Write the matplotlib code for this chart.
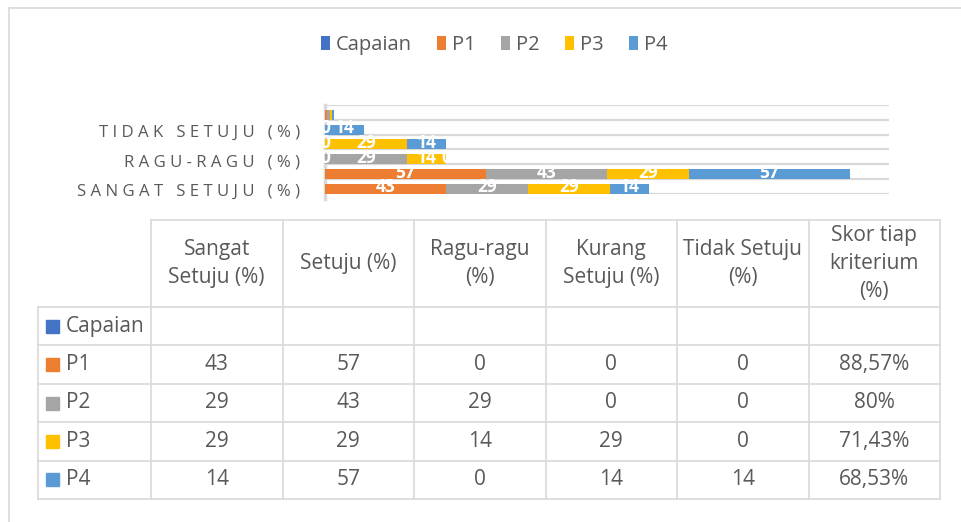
import numpy as np
import matplotlib
matplotlib.use('Agg')
import matplotlib.pyplot as plt
import matplotlib.transforms as mtransforms
from matplotlib.patches import Patch, Rectangle

plt.rcParams['font.family'] = ['Open Sans', 'DejaVu Sans']

# data
categories = ['Sangat Setuju (%)', 'Setuju (%)', 'Ragu-ragu (%)',
              'Kurang Setuju (%)', 'Tidak Setuju (%)', 'Skor tiap kriterium (%)']
header_labels = ['Sangat\nSetuju (%)', 'Setuju (%)', 'Ragu-ragu\n(%)',
                 'Kurang\nSetuju (%)', 'Tidak Setuju\n(%)', 'Skor tiap\nkriterium\n(%)']
series_names = ['Capaian', 'P1', 'P2', 'P3', 'P4']
capaian = [None, None, None, None, None, None]
p1 = [43, 57, 0, 0, 0, 0.8857]
p2 = [29, 43, 29, 0, 0, 0.80]
p3 = [29, 29, 14, 29, 0, 0.7143]
p4 = [14, 57, 0, 14, 14, 0.6853]
shown_ticks = [0, 2, 4]   # excel hanya tampilkan label selang-seling

colors = ['#4472C4', '#ED7D31', '#A5A5A5', '#FFC000', '#5B9BD5']
TXT = '#595959'
GRID = '#D9D9D9'

W, H = 961, 522
fig = plt.figure(figsize=(W / 100, H / 100), dpi=100)

def px_rect(x0, y0, x1, y1):
    return [x0 / W, 1 - y1 / H, (x1 - x0) / W, (y1 - y0) / H]

# overlay axes in pixel coords untuk frame + tabel
tab = fig.add_axes([0, 0, 1, 1])
tab.set_xlim(0, W)
tab.set_ylim(H, 0)
tab.axis('off')
tab.plot([9, W], [8, 8], color=GRID, lw=1.2)
tab.plot([9, 9], [8, H], color=GRID, lw=1.2)

# --- chart batang ---
ax = fig.add_axes(px_rect(325, 105, 889, 193.7))
ax.set_xlim(0, 200)
ax.set_ylim(-0.5, len(categories) - 0.5)
ax.axis('off')

ax.hlines(np.arange(-0.5, len(categories)), 0, 200, color=GRID, lw=1.6, zorder=0)
ax.plot([0, 0], [-0.85, len(categories) - 0.5], color=GRID, lw=2.5, clip_on=False, zorder=0)

ypos = np.arange(len(categories))
bar_c = ypos - 0.17
left = np.zeros(len(categories))
drawn = [set() for _ in categories]   # label nol yang bertumpuk cukup sekali
for name, vals, col in zip(series_names[1:], [p1, p2, p3, p4], colors[1:]):
    vals = np.array(vals, dtype=float)
    ax.barh(bar_c, vals, left=left, height=0.68, color=col, zorder=2)
    for i, (l, v) in enumerate(zip(left, vals)):
        if i == len(categories) - 1:
            continue
        xc = l + v / 2
        if xc in drawn[i]:
            continue
        drawn[i].add(xc)
        ax.text(xc, bar_c[i] + 0.1, f'{v:.0f}', color='white',
                fontsize=12.5, fontweight='bold', ha='center', va='center', zorder=3)
    left += vals

lab_tr = mtransforms.offset_copy(ax.get_yaxis_transform(), fig=fig, x=-25, y=-5.5, units='dots')
for i in shown_ticks:
    spaced = ' '.join(list(categories[i].upper()))
    ax.text(0, i, spaced, transform=lab_tr, ha='right', va='center',
            fontsize=12.1, color=TXT)

# legenda
handles = [Patch(facecolor=c) for c in colors]
fig.legend(handles, series_names, loc='center', bbox_to_anchor=(494 / W, 1 - 45 / H),
           ncol=5, frameon=False, fontsize=14.5, labelcolor=TXT,
           handlelength=0.45, handleheight=0.65, handletextpad=0.3, columnspacing=1.25)

# --- tabel data ---
col_x = 151 + 131.5 * np.arange(len(categories) + 1)
row_y = np.concatenate([[220], 307 + 38.4 * np.arange(len(series_names) + 1)])
lab_x0 = 38

tab.plot([col_x[0], col_x[-1]], [row_y[0], row_y[0]], color=GRID, lw=1.2)
for y in row_y[1:]:
    tab.plot([lab_x0, col_x[-1]], [y, y], color=GRID, lw=1.2)
for x in col_x:
    tab.plot([x, x], [row_y[0], row_y[-1]], color=GRID, lw=1.2)
tab.plot([lab_x0, lab_x0], [row_y[1], row_y[-1]], color=GRID, lw=1.2)

for j, h in enumerate(header_labels):
    tab.text((col_x[j] + col_x[j + 1]) / 2, (row_y[0] + row_y[1]) / 2, h,
             ha='center', va='center', fontsize=15, color=TXT, linespacing=1.45)

def fmt(v, j):
    if v is None:
        return ''
    if j == len(categories) - 1:
        return f'{v * 100:.2f}'.rstrip('0').rstrip('.').replace('.', ',') + '%'
    return f'{v:.0f}'

for k, (name, vals, col) in enumerate(zip(series_names, [capaian, p1, p2, p3, p4], colors)):
    yc = (row_y[k + 1] + row_y[k + 2]) / 2
    tab.add_patch(Rectangle((46, yc - 6.5), 13, 13, color=col))
    tab.text(66, yc, name, ha='left', va='center', fontsize=15, color=TXT)
    for j, v in enumerate(vals):
        tab.text((col_x[j] + col_x[j + 1]) / 2, yc, fmt(v, j),
                 ha='center', va='center', fontsize=15, color=TXT)

fig.savefig('out.png', dpi=100)
